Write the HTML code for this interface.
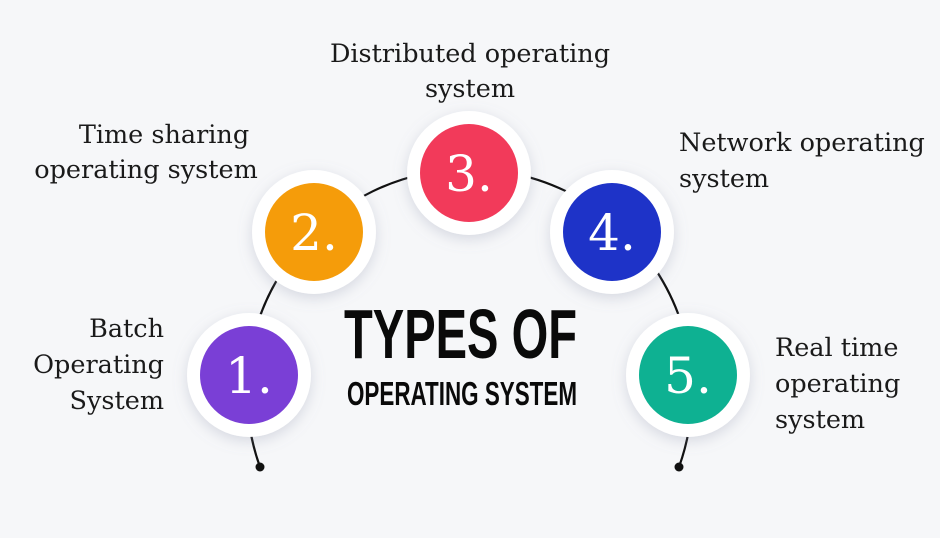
<!DOCTYPE html>
<html><head><meta charset="utf-8"><style>
html,body{margin:0;padding:0;background:#f6f7f9;}
body{width:940px;height:538px;overflow:hidden;}
svg{display:block}
.lab{font-family:"DejaVu Serif","Liberation Serif",serif;font-size:25.5px;fill:#1a1a1a;}
.num{font-family:"DejaVu Serif","Liberation Serif",serif;font-size:50px;fill:#fff;}
.t{font-family:"Liberation Sans",sans-serif;font-weight:bold;fill:#0a0a0a;}
</style></head><body>
<svg width="940" height="538" viewBox="0 0 940 538">
<defs>
<filter id="sh" x="-50%" y="-50%" width="200%" height="200%">
<feDropShadow dx="0" dy="4" stdDeviation="7" flood-color="#8890a8" flood-opacity="0.3"/>
</filter>
</defs>
<rect width="940" height="538" fill="#f6f7f9"/>
<path d="M260 467 A222.6 222.6 0 1 1 679 467" fill="none" stroke="#111" stroke-width="2.2"/>
<circle cx="260" cy="467" r="4.5" fill="#111"/>
<circle cx="679" cy="467" r="4.5" fill="#111"/>
<g filter="url(#sh)">
<circle cx="249" cy="375" r="62" fill="#fff"/>
<circle cx="314" cy="232" r="62" fill="#fff"/>
<circle cx="469" cy="173" r="62" fill="#fff"/>
<circle cx="612" cy="232" r="62" fill="#fff"/>
<circle cx="688" cy="375" r="62" fill="#fff"/>
</g>
<circle cx="249" cy="375" r="49" fill="#7a3fd6"/>
<circle cx="314" cy="232" r="49" fill="#f59c0a"/>
<circle cx="469" cy="173" r="49" fill="#f23a5a"/>
<circle cx="612" cy="232" r="49" fill="#1e33c8"/>
<circle cx="688" cy="375" r="49" fill="#0eb192"/>
<text class="num" x="249" y="393" text-anchor="middle">1.</text>
<text class="num" x="314" y="250" text-anchor="middle">2.</text>
<text class="num" x="469" y="191" text-anchor="middle">3.</text>
<text class="num" x="612" y="250" text-anchor="middle">4.</text>
<text class="num" x="688" y="393" text-anchor="middle">5.</text>
<text class="t" x="344" y="358" font-size="70" textLength="233" lengthAdjust="spacingAndGlyphs">TYPES OF</text>
<text class="t" x="347" y="405" font-size="33" textLength="230" lengthAdjust="spacingAndGlyphs">OPERATING SYSTEM</text>
<text class="lab" x="470" y="62" text-anchor="middle">Distributed operating</text>
<text class="lab" x="470" y="97" text-anchor="middle">system</text>
<text class="lab" x="164" y="143" text-anchor="middle">Time sharing</text>
<text class="lab" x="146" y="178" text-anchor="middle">operating system</text>
<text class="lab" x="679" y="151">Network operating</text>
<text class="lab" x="679" y="187">system</text>
<text class="lab" x="164" y="337" text-anchor="end">Batch</text>
<text class="lab" x="164" y="373" text-anchor="end">Operating</text>
<text class="lab" x="164" y="409" text-anchor="end">System</text>
<text class="lab" x="775" y="356">Real time</text>
<text class="lab" x="775" y="392">operating</text>
<text class="lab" x="775" y="428">system</text>
</svg>
</body></html>
